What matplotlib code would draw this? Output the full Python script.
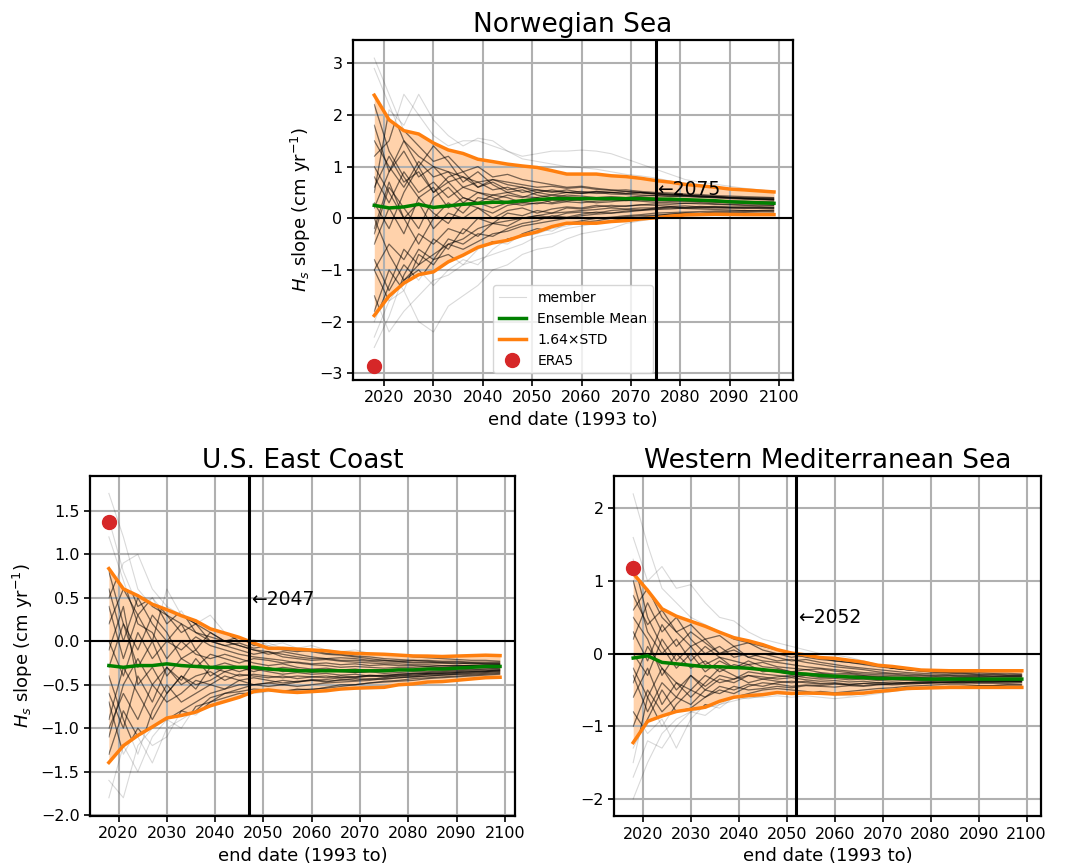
import numpy as np
import matplotlib
matplotlib.use("Agg")
import matplotlib.pyplot as plt

# end years of the trend window (start is always 1993)
years = [2018, 2021, 2024, 2027, 2030, 2033, 2036, 2039, 2042, 2045,
         2048, 2051, 2054, 2057, 2060, 2063, 2066, 2069, 2072, 2075,
         2078, 2081, 2084, 2087, 2090, 2093, 2096, 2099]

# ---- Norwegian Sea ----
nor_mean = [0.25, 0.20, 0.22, 0.27, 0.21, 0.24, 0.27, 0.29, 0.31, 0.31,
            0.34, 0.36, 0.38, 0.38, 0.38, 0.38, 0.38, 0.38, 0.38, 0.37,
            0.37, 0.36, 0.35, 0.34, 0.32, 0.31, 0.30, 0.29]
nor_std = [1.30, 1.04, 0.90, 0.83, 0.76, 0.66, 0.60, 0.52, 0.48, 0.45,
           0.41, 0.38, 0.33, 0.29, 0.29, 0.29, 0.27, 0.26, 0.24, 0.22,
           0.20, 0.18, 0.17, 0.16, 0.15, 0.146, 0.14, 0.134]
nor_members = [
    [2.9, 2.2, 1.5, 1.2, 1.0, 0.9, 0.8, 0.7, 0.75, 0.65, 0.6, 0.55, 0.5, 0.55, 0.5, 0.52, 0.5, 0.48, 0.5, 0.47, 0.45, 0.44, 0.43, 0.42, 0.41, 0.4, 0.4, 0.39],
    [-2.3, -1.6, -1.2, -0.9, -0.7, -0.5, -0.4, -0.2, -0.1, -0.05, 0.0, 0.05, 0.1, 0.12, 0.15, 0.17, 0.2, 0.18, 0.2, 0.2, 0.22, 0.2, 0.21, 0.2, 0.2, 0.19, 0.2, 0.2],
    [1.2, 1.5, 2.4, 2.0, 1.6, 1.4, 1.5, 1.5, 1.4, 1.3, 1.2, 1.25, 1.3, 1.3, 1.32, 1.3, 1.25, 1.15, 1.05, 0.95, 0.85, 0.75, 0.7, 0.66, 0.62, 0.58, 0.55, 0.52],
    [0.5, 2.1, 1.8, 2.4, 1.9, 1.6, 1.4, 1.55, 1.5, 1.3, 1.15, 1.1, 1.05, 1.0, 0.98, 0.95, 0.9, 0.85, 0.82, 0.78, 0.72, 0.68, 0.65, 0.6, 0.57, 0.55, 0.53, 0.5],
    [-1.5, -2.2, -1.8, -1.5, -1.2, -1.1, -0.9, -0.8, -0.7, -0.6, -0.5, -0.35, -0.3, -0.2, -0.15, -0.1, -0.05, 0.0, 0.02, 0.05, 0.08, 0.1, 0.1, 0.12, 0.12, 0.13, 0.14, 0.15],
    [0.8, 0.3, 0.9, 0.5, 0.7, 0.4, 0.6, 0.5, 0.45, 0.5, 0.42, 0.4, 0.45, 0.42, 0.4, 0.38, 0.4, 0.39, 0.37, 0.38, 0.36, 0.35, 0.36, 0.34, 0.33, 0.33, 0.32, 0.32],
    [-0.5, 0.2, -0.3, 0.4, 0.1, -0.1, 0.3, 0.2, 0.0, 0.15, 0.2, 0.1, 0.18, 0.22, 0.2, 0.25, 0.22, 0.24, 0.26, 0.25, 0.23, 0.24, 0.22, 0.23, 0.22, 0.21, 0.22, 0.21],
    [1.5, 1.0, 0.6, 1.1, 0.8, 0.9, 0.6, 0.7, 0.55, 0.6, 0.5, 0.55, 0.52, 0.5, 0.48, 0.5, 0.47, 0.46, 0.45, 0.44, 0.43, 0.42, 0.41, 0.4, 0.38, 0.37, 0.36, 0.35],
    [-1.0, -0.5, -0.8, -0.3, -0.5, -0.2, -0.3, 0.0, -0.1, 0.1, 0.05, 0.15, 0.1, 0.2, 0.18, 0.22, 0.25, 0.23, 0.26, 0.28, 0.27, 0.29, 0.28, 0.27, 0.26, 0.25, 0.24, 0.24],
    [0.2, 0.9, 1.3, 0.8, 1.0, 0.7, 0.8, 0.6, 0.7, 0.55, 0.6, 0.5, 0.55, 0.5, 0.52, 0.48, 0.5, 0.52, 0.5, 0.48, 0.47, 0.45, 0.44, 0.42, 0.4, 0.38, 0.37, 0.36],
    [2.2, 1.3, 0.8, 0.4, 0.6, 0.2, 0.4, 0.3, 0.2, 0.3, 0.25, 0.3, 0.28, 0.32, 0.3, 0.33, 0.35, 0.34, 0.36, 0.35, 0.34, 0.33, 0.32, 0.31, 0.3, 0.29, 0.28, 0.28],
    [-2.0, -1.3, -0.6, -0.9, -0.4, -0.6, -0.2, -0.35, -0.1, -0.15, 0.0, 0.05, 0.02, 0.1, 0.12, 0.1, 0.15, 0.17, 0.16, 0.18, 0.2, 0.19, 0.18, 0.17, 0.16, 0.15, 0.14, 0.13],
    [0.0, -0.7, -1.2, -1.0, -1.3, -1.0, -0.8, -0.9, -0.6, -0.4, -0.35, -0.3, -0.2, -0.15, -0.08, -0.05, 0.0, 0.03, 0.05, 0.06, 0.08, 0.1, 0.09, 0.1, 0.1, 0.11, 0.1, 0.1],
    [-1.0, -1.6, -1.4, -2.0, -2.2, -1.7, -1.5, -1.3, -1.0, -0.9, -0.7, -0.6, -0.55, -0.4, -0.3, -0.25, -0.2, -0.1, -0.05, 0.0, 0.02, 0.04, 0.05, 0.06, 0.07, 0.08, 0.08, 0.09],
    [1.0, 0.5, 0.0, 0.3, -0.2, 0.1, 0.0, 0.2, 0.1, 0.25, 0.3, 0.28, 0.35, 0.33, 0.38, 0.4, 0.42, 0.4, 0.43, 0.44, 0.42, 0.43, 0.41, 0.4, 0.39, 0.38, 0.37, 0.36],
    [-0.3, 0.6, 0.2, -0.2, 0.4, 0.6, 0.3, 0.5, 0.4, 0.3, 0.35, 0.4, 0.3, 0.36, 0.34, 0.3, 0.32, 0.35, 0.33, 0.31, 0.3, 0.29, 0.3, 0.28, 0.27, 0.26, 0.26, 0.25],
    [3.1, 2.4, 1.7, 1.4, 1.1, 1.2, 0.9, 1.0, 0.8, 0.85, 0.75, 0.7, 0.65, 0.6, 0.62, 0.58, 0.55, 0.52, 0.5, 0.48, 0.46, 0.45, 0.43, 0.42, 0.4, 0.39, 0.38, 0.37],
    [-1.8, -1.0, -1.4, -0.7, -0.9, -0.5, -0.6, -0.45, -0.3, -0.25, -0.15, -0.1, -0.05, 0.0, 0.05, 0.08, 0.1, 0.12, 0.15, 0.17, 0.18, 0.2, 0.2, 0.21, 0.2, 0.2, 0.19, 0.19],
    [0.6, 1.2, 0.7, 0.9, 0.5, 0.8, 0.9, 0.6, 0.75, 0.7, 0.65, 0.6, 0.62, 0.58, 0.6, 0.56, 0.54, 0.55, 0.52, 0.5, 0.49, 0.47, 0.46, 0.44, 0.43, 0.42, 0.41, 0.4],
    [-0.8, -1.4, -0.9, -1.2, -0.8, -0.4, -0.5, -0.3, -0.35, -0.2, -0.1, -0.05, 0.05, 0.02, 0.08, 0.12, 0.1, 0.14, 0.16, 0.2, 0.22, 0.21, 0.23, 0.22, 0.21, 0.22, 0.21, 0.2],
    [0.3, -0.2, 0.5, 1.0, 1.4, 1.1, 0.7, 0.9, 0.65, 0.5, 0.55, 0.45, 0.4, 0.45, 0.43, 0.4, 0.38, 0.4, 0.41, 0.39, 0.38, 0.37, 0.35, 0.34, 0.33, 0.32, 0.31, 0.3],
    [-2.5, -1.9, -1.1, -0.6, -0.8, -0.7, -0.9, -0.6, -0.45, -0.5, -0.3, -0.2, -0.25, -0.1, -0.05, 0.0, 0.02, 0.05, 0.07, 0.1, 0.11, 0.12, 0.13, 0.14, 0.14, 0.15, 0.15, 0.16],
    [1.8, 0.9, 1.5, 1.0, 0.5, 0.7, 0.4, 0.3, 0.45, 0.4, 0.3, 0.35, 0.4, 0.38, 0.36, 0.4, 0.37, 0.35, 0.36, 0.34, 0.33, 0.34, 0.33, 0.32, 0.31, 0.3, 0.29, 0.29],
    [-0.2, 0.7, 0.0, -0.5, 0.0, 0.3, 0.1, 0.4, 0.35, 0.45, 0.4, 0.5, 0.45, 0.5, 0.48, 0.52, 0.5, 0.48, 0.49, 0.47, 0.45, 0.44, 0.42, 0.41, 0.4, 0.39, 0.38, 0.38],
]
nor_era5 = -2.85
nor_cross = 2075

# ---- U.S. East Coast ----
use_mean = [-0.28, -0.30, -0.28, -0.28, -0.26, -0.28, -0.29, -0.30, -0.30, -0.30,
            -0.30, -0.32, -0.33, -0.34, -0.34, -0.34, -0.34, -0.34, -0.34, -0.34,
            -0.33, -0.33, -0.32, -0.32, -0.31, -0.30, -0.29, -0.29]
use_std = [0.68, 0.55, 0.49, 0.43, 0.38, 0.35, 0.32, 0.27, 0.24, 0.21,
           0.17, 0.146, 0.152, 0.152, 0.146, 0.14, 0.128, 0.122, 0.119, 0.116,
           0.104, 0.098, 0.091, 0.088, 0.085, 0.082, 0.079, 0.076]
use_members = [
    [1.7, 1.2, 0.6, 0.4, 0.3, 0.2, 0.1, 0.05, 0.0, -0.05, -0.1, -0.12, -0.15, -0.18, -0.2, -0.2, -0.22, -0.22, -0.23, -0.24, -0.24, -0.25, -0.25, -0.25, -0.26, -0.25, -0.26, -0.26],
    [-1.6, -1.8, -1.2, -1.0, -0.9, -0.8, -0.7, -0.6, -0.55, -0.5, -0.5, -0.48, -0.5, -0.47, -0.45, -0.44, -0.42, -0.42, -0.4, -0.4, -0.39, -0.38, -0.37, -0.37, -0.36, -0.35, -0.35, -0.34],
    [0.5, 0.9, 1.0, 0.6, 0.4, 0.3, 0.2, 0.1, 0.0, -0.05, -0.1, -0.15, -0.12, -0.15, -0.18, -0.2, -0.19, -0.2, -0.22, -0.22, -0.23, -0.22, -0.23, -0.24, -0.24, -0.25, -0.25, -0.25],
    [-0.3, 0.2, -0.1, 0.3, 0.1, -0.2, -0.1, -0.3, -0.25, -0.3, -0.35, -0.3, -0.35, -0.33, -0.36, -0.34, -0.35, -0.36, -0.35, -0.34, -0.33, -0.33, -0.32, -0.32, -0.31, -0.3, -0.3, -0.29],
    [-1.0, -0.6, -0.9, -0.5, -0.7, -0.6, -0.45, -0.5, -0.4, -0.45, -0.42, -0.45, -0.48, -0.46, -0.45, -0.47, -0.44, -0.45, -0.43, -0.44, -0.42, -0.41, -0.4, -0.39, -0.38, -0.37, -0.36, -0.35],
    [0.8, 0.2, -0.3, 0.0, -0.4, -0.2, -0.3, -0.15, -0.2, -0.25, -0.2, -0.22, -0.25, -0.24, -0.26, -0.25, -0.27, -0.26, -0.28, -0.27, -0.28, -0.28, -0.29, -0.28, -0.28, -0.28, -0.27, -0.27],
    [-1.3, -0.8, -1.1, -1.4, -1.0, -0.9, -0.8, -0.65, -0.6, -0.55, -0.5, -0.52, -0.5, -0.52, -0.5, -0.48, -0.47, -0.46, -0.45, -0.43, -0.42, -0.41, -0.4, -0.39, -0.38, -0.38, -0.37, -0.36],
    [0.2, 0.6, 0.3, 0.5, 0.2, 0.35, 0.1, 0.0, -0.05, -0.1, -0.15, -0.12, -0.18, -0.2, -0.22, -0.21, -0.23, -0.24, -0.25, -0.26, -0.26, -0.27, -0.27, -0.28, -0.28, -0.28, -0.28, -0.27],
    [-0.6, -1.0, -0.4, -0.7, -0.3, -0.5, -0.4, -0.35, -0.45, -0.38, -0.4, -0.42, -0.4, -0.43, -0.41, -0.42, -0.4, -0.41, -0.39, -0.4, -0.38, -0.37, -0.37, -0.36, -0.35, -0.34, -0.34, -0.33],
    [0.0, -0.4, 0.1, -0.2, 0.0, -0.1, 0.05, -0.05, -0.1, -0.15, -0.18, -0.2, -0.22, -0.25, -0.27, -0.28, -0.3, -0.29, -0.3, -0.31, -0.3, -0.3, -0.29, -0.3, -0.29, -0.28, -0.28, -0.28],
    [-1.8, -1.2, -1.5, -1.1, -0.9, -1.0, -0.75, -0.7, -0.6, -0.58, -0.55, -0.56, -0.58, -0.55, -0.56, -0.53, -0.5, -0.5, -0.48, -0.46, -0.45, -0.43, -0.42, -0.41, -0.4, -0.39, -0.38, -0.37],
    [0.4, -0.2, 0.3, 0.0, 0.6, 0.3, 0.2, 0.3, 0.1, 0.0, 0.02, -0.05, -0.02, -0.08, -0.05, -0.1, -0.12, -0.1, -0.14, -0.15, -0.16, -0.18, -0.19, -0.2, -0.21, -0.22, -0.22, -0.23],
    [-0.9, -0.3, -0.6, -0.9, -0.6, -0.4, -0.55, -0.3, -0.35, -0.3, -0.32, -0.35, -0.38, -0.36, -0.38, -0.37, -0.39, -0.38, -0.4, -0.39, -0.38, -0.37, -0.36, -0.35, -0.34, -0.33, -0.32, -0.32],
    [1.2, 0.7, 0.2, 0.1, -0.2, 0.0, -0.15, -0.2, -0.15, -0.2, -0.25, -0.28, -0.26, -0.3, -0.32, -0.31, -0.33, -0.32, -0.34, -0.33, -0.32, -0.32, -0.31, -0.3, -0.3, -0.29, -0.29, -0.28],
    [-0.4, -0.9, -1.3, -0.8, -0.5, -0.7, -0.6, -0.5, -0.55, -0.45, -0.5, -0.48, -0.45, -0.47, -0.44, -0.46, -0.45, -0.43, -0.44, -0.42, -0.4, -0.4, -0.38, -0.37, -0.36, -0.35, -0.34, -0.33],
    [0.6, 0.0, 0.5, 0.2, 0.0, 0.2, -0.1, 0.1, 0.0, 0.05, -0.05, -0.02, -0.08, -0.1, -0.12, -0.15, -0.16, -0.18, -0.2, -0.22, -0.23, -0.24, -0.24, -0.25, -0.25, -0.26, -0.26, -0.26],
    [-1.1, -0.5, -0.2, -0.5, -0.3, -0.45, -0.2, -0.4, -0.3, -0.35, -0.3, -0.33, -0.3, -0.32, -0.35, -0.33, -0.34, -0.36, -0.35, -0.37, -0.36, -0.35, -0.35, -0.34, -0.33, -0.32, -0.32, -0.31],
    [-0.1, 0.4, -0.5, -0.3, -0.6, -0.4, -0.5, -0.45, -0.35, -0.4, -0.38, -0.4, -0.42, -0.4, -0.41, -0.4, -0.42, -0.41, -0.4, -0.41, -0.4, -0.39, -0.38, -0.38, -0.37, -0.36, -0.35, -0.34],
    [1.4, 0.8, 0.4, 0.5, 0.3, 0.1, 0.2, 0.0, -0.05, -0.02, -0.08, -0.05, -0.1, -0.12, -0.1, -0.14, -0.15, -0.17, -0.18, -0.2, -0.21, -0.22, -0.22, -0.23, -0.23, -0.24, -0.24, -0.24],
    [-0.7, -1.3, -1.0, -1.2, -1.1, -0.8, -0.85, -0.7, -0.65, -0.6, -0.6, -0.58, -0.57, -0.56, -0.55, -0.54, -0.52, -0.5, -0.48, -0.47, -0.46, -0.45, -0.43, -0.42, -0.41, -0.4, -0.39, -0.38],
]
use_era5 = 1.37
use_cross = 2047

# ---- Western Mediterranean Sea ----
wmed_mean = [-0.06, -0.03, -0.12, -0.14, -0.16, -0.18, -0.18, -0.19, -0.20, -0.22,
             -0.24, -0.27, -0.28, -0.30, -0.31, -0.32, -0.33, -0.34, -0.34, -0.34,
             -0.35, -0.35, -0.35, -0.35, -0.35, -0.35, -0.35, -0.35]
wmed_std = [0.71, 0.55, 0.45, 0.40, 0.37, 0.34, 0.29, 0.25, 0.23, 0.21,
            0.18, 0.17, 0.16, 0.15, 0.15, 0.14, 0.13, 0.11, 0.10, 0.085,
            0.076, 0.073, 0.07, 0.07, 0.07, 0.07, 0.07, 0.07]
wmed_members = [
    [2.2, 1.5, 0.9, 0.7, 0.5, 0.4, 0.3, 0.2, 0.15, 0.1, 0.05, 0.0, -0.05, -0.08, -0.1, -0.12, -0.15, -0.18, -0.2, -0.22, -0.24, -0.25, -0.26, -0.27, -0.28, -0.28, -0.29, -0.29],
    [-2.0, -1.5, -1.1, -0.9, -0.8, -0.75, -0.7, -0.65, -0.6, -0.6, -0.58, -0.6, -0.58, -0.6, -0.62, -0.6, -0.58, -0.55, -0.52, -0.5, -0.48, -0.47, -0.46, -0.45, -0.44, -0.44, -0.43, -0.43],
    [1.6, 1.0, 1.2, 0.9, 0.95, 0.7, 0.5, 0.45, 0.3, 0.2, 0.15, 0.1, 0.05, 0.0, -0.02, -0.05, -0.1, -0.15, -0.2, -0.22, -0.23, -0.24, -0.25, -0.26, -0.26, -0.27, -0.27, -0.28],
    [-1.7, -1.2, -1.3, -1.0, -0.8, -0.85, -0.7, -0.6, -0.55, -0.5, -0.48, -0.5, -0.52, -0.55, -0.57, -0.58, -0.55, -0.52, -0.5, -0.48, -0.47, -0.46, -0.45, -0.45, -0.44, -0.44, -0.43, -0.43],
    [0.5, 0.2, -0.3, 0.0, -0.2, -0.1, -0.25, -0.15, -0.2, -0.22, -0.25, -0.28, -0.3, -0.29, -0.31, -0.32, -0.31, -0.33, -0.34, -0.33, -0.34, -0.35, -0.34, -0.35, -0.35, -0.35, -0.35, -0.35],
    [-0.6, -0.2, -0.7, -0.4, -0.5, -0.3, -0.4, -0.35, -0.3, -0.32, -0.35, -0.33, -0.36, -0.38, -0.37, -0.39, -0.38, -0.4, -0.39, -0.4, -0.39, -0.38, -0.38, -0.38, -0.37, -0.37, -0.37, -0.37],
    [0.8, 0.4, 0.6, 0.3, 0.1, 0.2, 0.0, 0.05, -0.05, -0.1, -0.12, -0.15, -0.18, -0.2, -0.22, -0.24, -0.26, -0.27, -0.28, -0.3, -0.3, -0.31, -0.31, -0.32, -0.32, -0.32, -0.32, -0.32],
    [-1.0, -0.5, -0.8, -0.6, -0.7, -0.5, -0.55, -0.45, -0.5, -0.48, -0.45, -0.47, -0.44, -0.45, -0.46, -0.44, -0.45, -0.43, -0.42, -0.41, -0.41, -0.4, -0.4, -0.4, -0.39, -0.39, -0.39, -0.38],
    [0.2, 0.7, 0.3, 0.5, 0.2, 0.0, 0.1, -0.05, 0.0, -0.05, -0.1, -0.08, -0.12, -0.15, -0.18, -0.2, -0.22, -0.25, -0.27, -0.28, -0.29, -0.3, -0.3, -0.31, -0.31, -0.31, -0.31, -0.31],
    [-0.3, -0.8, -0.4, -0.6, -0.3, -0.5, -0.35, -0.4, -0.3, -0.35, -0.32, -0.3, -0.33, -0.35, -0.34, -0.36, -0.35, -0.37, -0.36, -0.37, -0.37, -0.37, -0.36, -0.37, -0.36, -0.36, -0.36, -0.36],
    [1.0, 0.3, 0.0, 0.2, -0.1, 0.1, -0.05, -0.1, -0.15, -0.12, -0.18, -0.2, -0.22, -0.21, -0.24, -0.26, -0.28, -0.29, -0.3, -0.31, -0.32, -0.32, -0.33, -0.33, -0.33, -0.34, -0.34, -0.34],
    [-1.3, -0.9, -0.5, -0.8, -0.75, -0.6, -0.5, -0.55, -0.45, -0.4, -0.42, -0.45, -0.43, -0.44, -0.42, -0.43, -0.41, -0.42, -0.41, -0.4, -0.4, -0.4, -0.39, -0.39, -0.39, -0.39, -0.38, -0.38],
    [0.0, -0.3, 0.2, -0.1, 0.1, -0.15, -0.05, -0.2, -0.1, -0.18, -0.2, -0.25, -0.22, -0.26, -0.28, -0.27, -0.3, -0.31, -0.32, -0.33, -0.33, -0.34, -0.34, -0.34, -0.34, -0.34, -0.34, -0.34],
    [-0.8, -1.1, -0.9, -1.3, -0.9, -0.7, -0.75, -0.6, -0.62, -0.58, -0.55, -0.56, -0.55, -0.52, -0.54, -0.52, -0.5, -0.48, -0.47, -0.45, -0.44, -0.43, -0.42, -0.42, -0.41, -0.41, -0.41, -0.4],
    [0.6, 0.9, 0.5, 0.3, 0.4, 0.2, 0.25, 0.1, 0.15, 0.05, 0.0, -0.05, -0.02, -0.06, -0.1, -0.12, -0.14, -0.16, -0.2, -0.22, -0.24, -0.26, -0.27, -0.28, -0.29, -0.29, -0.3, -0.3],
    [-0.4, 0.1, -0.2, -0.5, -0.3, -0.45, -0.3, -0.35, -0.25, -0.28, -0.3, -0.32, -0.3, -0.33, -0.32, -0.34, -0.33, -0.35, -0.34, -0.35, -0.36, -0.36, -0.36, -0.36, -0.36, -0.36, -0.36, -0.36],
    [-1.5, -0.6, -0.2, -0.4, -0.6, -0.4, -0.2, -0.3, -0.4, -0.35, -0.38, -0.4, -0.38, -0.41, -0.4, -0.42, -0.41, -0.4, -0.41, -0.4, -0.39, -0.39, -0.39, -0.38, -0.38, -0.38, -0.38, -0.38],
    [0.3, -0.1, 0.4, 0.1, 0.3, 0.15, 0.0, 0.1, -0.05, 0.0, -0.05, -0.1, -0.08, -0.12, -0.15, -0.18, -0.2, -0.22, -0.24, -0.26, -0.27, -0.28, -0.29, -0.3, -0.3, -0.31, -0.31, -0.31],
    [-0.2, -0.6, -1.0, -0.7, -0.5, -0.6, -0.45, -0.5, -0.42, -0.45, -0.4, -0.38, -0.4, -0.42, -0.41, -0.43, -0.44, -0.42, -0.43, -0.42, -0.41, -0.4, -0.4, -0.4, -0.39, -0.39, -0.39, -0.39],
    [1.3, 0.5, 0.1, -0.2, 0.0, -0.25, -0.1, -0.2, -0.15, -0.25, -0.22, -0.25, -0.28, -0.27, -0.3, -0.29, -0.31, -0.32, -0.33, -0.33, -0.34, -0.34, -0.34, -0.35, -0.35, -0.35, -0.35, -0.35],
]
wmed_era5 = 1.18
wmed_cross = 2052

FACTOR = 1.64
YLABEL = r"$H_s$ slope (cm yr$^{-1}$)"


def plot_panel(ax, title, mean, std, members, era5, cross, text_y, legend=False, ylabel=True):
    """ one region: members, mean, 1.64*std envelope, ERA5 point and crossing year """
    x = np.array(years)
    mean = np.array(mean)
    std = np.array(std)
    up = mean + FACTOR * std
    lo = mean - FACTOR * std

    band = ax.fill_between(x, lo, up, color='tab:orange', alpha=0.35, lw=0, zorder=1)
    band_path = band.get_paths()[0]
    for i, m in enumerate(members):
        ax.plot(x, m, color='k', alpha=0.15, lw=0.8, zorder=2,
                label='member' if i == 0 else None)
        # darker inside the envelope, where the real ensemble is dense
        inner, = ax.plot(x, m, color='k', alpha=0.45, lw=0.9, zorder=2)
        inner.set_clip_path(band_path, transform=ax.transData)
    ax.plot(x, mean, color='green', lw=2.5, zorder=4, label='Ensemble Mean')
    ax.plot(x, up, color='tab:orange', lw=2.5, zorder=3, label='1.64×STD')
    ax.plot(x, lo, color='tab:orange', lw=2.5, zorder=3)
    ax.plot([x[0]], [era5], 'o', color='tab:red', ms=10, ls='none', zorder=5, label='ERA5')

    ax.axhline(0, color='k', lw=1.5, zorder=3)
    ax.axvline(cross, color='k', lw=2.2, zorder=5)
    ax.text(cross + 0.4, text_y, '←' + str(cross), fontsize=13.5, ha='left', va='center', zorder=6)

    ax.grid(True, color='#b0b0b0', lw=1.5)
    ax.set_title(title, fontsize=19)
    ax.set_xlabel('end date (1993 to)', fontsize=13)
    if ylabel:
        ax.set_ylabel(YLABEL, fontsize=13)
    ax.set_xticks(range(2020, 2101, 10))
    ax.tick_params(labelsize=11.5, width=1.2, length=4)
    for s in ax.spines.values():
        s.set_linewidth(1.6)
    if legend:
        ax.legend(loc='lower center', fontsize=10)


def main():
    fig = plt.figure(figsize=(10.77, 8.68), dpi=100)
    ax1 = fig.add_axes([0.3278, 0.5622, 0.4085, 0.3917])
    ax2 = fig.add_axes([0.0836, 0.0599, 0.3946, 0.3917])
    ax3 = fig.add_axes([0.5701, 0.0595, 0.3965, 0.3920])

    plot_panel(ax1, 'Norwegian Sea', nor_mean, nor_std, nor_members, nor_era5, nor_cross, 0.55, legend=True)
    ax1.set_xlim(2013.7, 2102.85)
    ax1.set_ylim(-3.13, 3.45)

    plot_panel(ax2, 'U.S. East Coast', use_mean, use_std, use_members, use_era5, use_cross, 0.48)
    ax2.set_xlim(2014.1, 2102.1)
    ax2.set_ylim(-2.01, 1.90)

    plot_panel(ax3, 'Western Mediterranean Sea', wmed_mean, wmed_std, wmed_members, wmed_era5, wmed_cross, 0.5, ylabel=False)
    ax3.set_xlim(2014.0, 2103.0)
    ax3.set_ylim(-2.24, 2.445)

    fig.savefig('out.png', dpi=100)


if __name__ == "__main__":
    main()
